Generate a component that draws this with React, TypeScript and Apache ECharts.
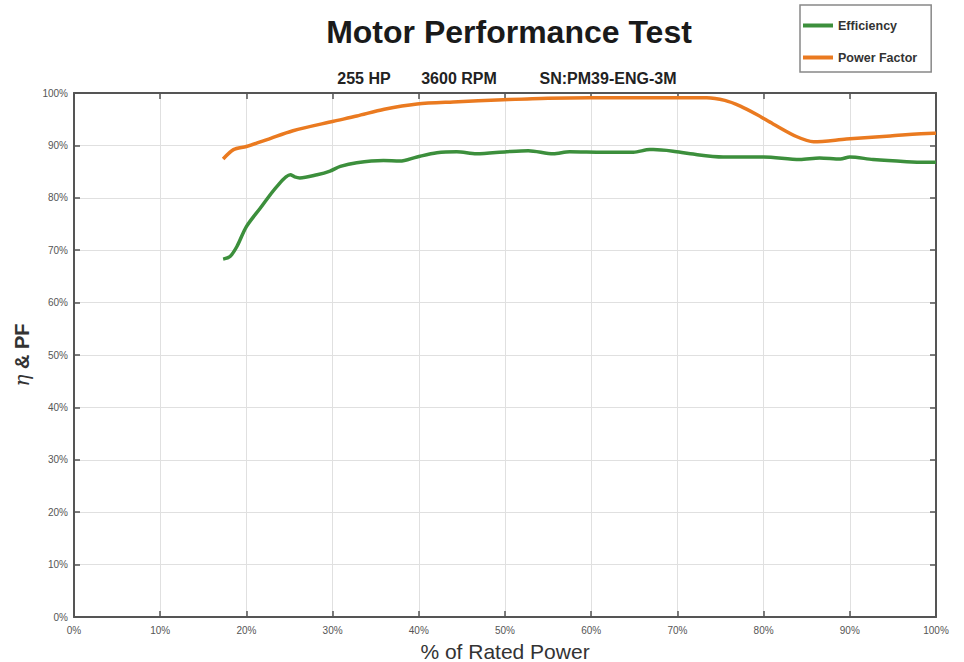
import React, { useEffect, useRef } from "react";
import * as echarts from "echarts";

const xTicks = [0, 10, 20, 30, 40, 50, 60, 70, 80, 90, 100];

const effX = [17.3, 18.1, 18.9, 20.0, 21.6, 23.5, 25.1, 25.6, 26.2, 28.2, 29.7, 30.9, 32.8, 35.9, 37.8, 39.8, 42.1, 44.4, 46.7, 50.2, 52.7, 55.6, 57.5, 61.4, 64.9, 66.8, 67.2, 69.5, 71.5, 75.3, 80.0, 84.2, 86.5, 88.9, 90.0, 92.7, 96.6, 98.9, 100];
const effY = [68.3, 68.8, 70.7, 74.5, 78.0, 82.1, 84.4, 84.0, 83.8, 84.4, 85.1, 86.0, 86.7, 87.1, 87.0, 87.8, 88.6, 88.8, 88.4, 88.8, 89.0, 88.4, 88.8, 88.7, 88.7, 89.2, 89.2, 88.9, 88.4, 87.8, 87.8, 87.3, 87.6, 87.4, 87.8, 87.3, 86.9, 86.8, 86.8];

const pfX = [17.3, 18.5, 20.0, 22.4, 25.4, 30.1, 32.8, 36.0, 39.8, 44.0, 49.8, 55.0, 59.9, 65.7, 73.4, 75.5, 77.3, 79.2, 81.1, 83.8, 85.8, 89.6, 94.7, 99.7, 100];
const pfY = [87.4, 89.2, 89.8, 91.1, 92.8, 94.6, 95.6, 96.9, 97.9, 98.3, 98.7, 99.0, 99.1, 99.1, 99.1, 98.6, 97.5, 95.9, 94.1, 91.7, 90.7, 91.2, 91.8, 92.3, 92.3];

const subtitleParts = ["255 HP", "3600 RPM", "SN:PM39-ENG-3M"];
const subtitleCenters = [359, 454, 603];

const FONT = "Liberation Sans, Arial, sans-serif";

export default function App() {
  const ref = useRef<HTMLDivElement>(null);
  useEffect(() => {
    document.body.style.margin = "0";
    const chart = echarts.init(ref.current!, undefined, { renderer: "svg" });
    const pct = (v: number) => v + "%";
    const axisLine = { show: true, onZero: false, lineStyle: { color: "#555", width: 2 } };
    const tick = { show: true, inside: true, length: 6, lineStyle: { color: "#555", width: 1.5 } };
    chart.setOption({
      animation: false,
      backgroundColor: "#fff",
      textStyle: { fontFamily: FONT },
      title: [
        {
          text: "Motor Performance Test",
          left: 504,
          top: 11,
          textAlign: "center",
          textStyle: { fontSize: 32, fontWeight: "bold", color: "#1a1a1a", fontFamily: FONT },
        },
        ...subtitleParts.map((t, i) => ({
          text: t,
          left: subtitleCenters[i],
          top: 65,
          textAlign: "center",
          textStyle: { fontSize: 16, fontWeight: "bold", color: "#222", fontFamily: FONT },
        })),
      ],
      legend: {
        orient: "vertical",
        left: 800,
        top: 5,
        padding: [14, 14, 8, 3],
        itemGap: 19,
        itemWidth: 30,
        itemHeight: 4,
        icon: "rect",
        borderColor: "#888",
        borderWidth: 1.5,
        backgroundColor: "#fff",
        textStyle: { fontSize: 12.5, fontWeight: "bold", color: "#333", fontFamily: FONT },
        data: ["Efficiency", "Power Factor"],
      },
      grid: { left: 74, right: 28, top: 93, bottom: 45, containLabel: false, outerBoundsMode: "none" },
      xAxis: [
        {
          type: "value",
          min: 0,
          max: 100,
          interval: 10,
          name: "% of Rated Power",
          nameLocation: "middle",
          nameGap: 24,
          nameTextStyle: { fontSize: 21, color: "#333", fontFamily: FONT },
          axisLine,
          axisTick: tick,
          axisLabel: { formatter: pct, fontSize: 10, color: "#555", margin: 8 },
          splitLine: { show: true, lineStyle: { color: "#e0e0e0", width: 1 } },
        },
        {
          type: "value",
          position: "top",
          min: 0,
          max: 100,
          interval: 10,
          axisLine,
          axisTick: tick,
          axisLabel: { show: false },
          splitLine: { show: false },
        },
      ],
      yAxis: [
        {
          type: "value",
          min: 0,
          max: 100,
          interval: 10,
          name: "{i|η} & PF",
          nameLocation: "middle",
          nameGap: 38,
          nameTextStyle: {
            fontSize: 20,
            fontWeight: "bold",
            color: "#333",
            fontFamily: FONT,
            rich: {
              i: { fontSize: 20, fontStyle: "italic", fontWeight: "normal", color: "#333", fontFamily: "DejaVu Serif, serif" },
            },
          },
          axisLine,
          axisTick: tick,
          axisLabel: { formatter: pct, fontSize: 10, color: "#555", margin: 6 },
          splitLine: { show: true, lineStyle: { color: "#e0e0e0", width: 1 } },
        },
        {
          type: "value",
          position: "right",
          min: 0,
          max: 100,
          interval: 10,
          axisLine,
          axisTick: tick,
          axisLabel: { show: false },
          splitLine: { show: false },
        },
      ],
      series: [
        {
          name: "Efficiency",
          type: "line",
          xAxisIndex: 0,
          yAxisIndex: 0,
          smooth: 0.3,
          symbol: "none",
          color: "#3c8f3c",
          lineStyle: { width: 3.5, color: "#3c8f3c" },
          data: effX.map((x, i) => [x, effY[i]]),
        },
        {
          name: "Power Factor",
          type: "line",
          xAxisIndex: 0,
          yAxisIndex: 0,
          smooth: 0.3,
          symbol: "none",
          color: "#ea7a20",
          lineStyle: { width: 3.5, color: "#ea7a20" },
          data: pfX.map((x, i) => [x, pfY[i]]),
        },
      ],
    });
    return () => chart.dispose();
  }, []);
  return <div ref={ref} style={{ width: 964, height: 662 }} />;
}
